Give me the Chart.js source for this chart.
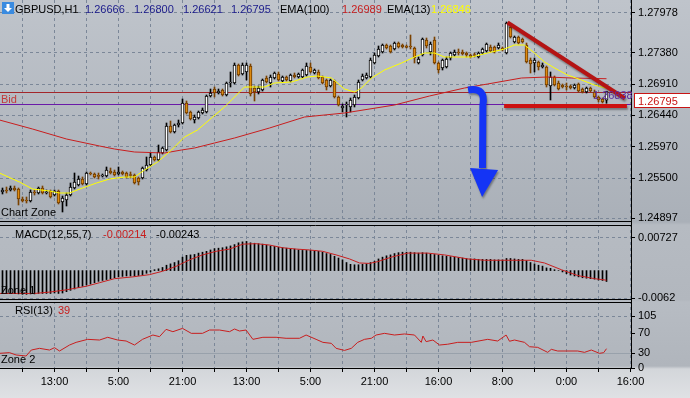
<!DOCTYPE html>
<html>
<head>
<meta charset="utf-8">
<title>GBPUSD,H1</title>
<script src="https://cdn.jsdelivr.net/npm/chart.js@4.4.1/dist/chart.umd.min.js"></script>
<style>
  html, body { margin: 0; padding: 0; background: #d9dcdf; }
  #wrap {
    position: relative; width: 690px; height: 398px; overflow: hidden;
    background: linear-gradient(to bottom, #bfc4cb 0px, #aab0b8 222px, #b6bbc2 225px, #b2b7be 300px,
      #b7bcc3 302px, #b0b5bc 366px, #d3d6da 369px, #dfe1e4 398px);
  }
  #wrap canvas { position: absolute; left: 0; }
</style>
</head>
<body>
<div id="wrap">
  <canvas id="main" width="690" height="224" style="top:0"></canvas>
  <canvas id="macd" width="690" height="77" style="top:224px"></canvas>
  <canvas id="rsi" width="690" height="97" style="top:301px"></canvas>
</div>
<script>
// hourly candles, [open, high, low, close]
const candles = [
  [1.2529,1.2535,1.2526,1.2532],[1.2532,1.25365,1.25275,1.25305],[1.2532,1.2538,1.25305,1.2535],[1.2535,1.2538,1.25305,1.2532],[1.25335,1.2535,1.25095,1.25185],
  [1.25185,1.25215,1.2514,1.25155],[1.2517,1.25215,1.25125,1.25155],[1.25155,1.2532,1.2514,1.2529],[1.2529,1.2532,1.25245,1.25275],[1.25275,1.25365,1.2526,1.2535],
  [1.2535,1.2538,1.2526,1.25275],[1.25275,1.2532,1.2526,1.2529],[1.25305,1.2532,1.252,1.25215],[1.25245,1.2532,1.2523,1.25305],[1.25305,1.2532,1.2511,1.25125],
  [1.2514,1.2523,1.2499,1.252],[1.2517,1.25275,1.2508,1.25245],[1.25245,1.25425,1.2523,1.25365],[1.2535,1.25575,1.25335,1.2544],[1.25395,1.2553,1.2538,1.25485],
  [1.25485,1.25515,1.25395,1.2541],[1.2541,1.2559,1.25395,1.25575],[1.25575,1.2559,1.25545,1.2556],[1.2556,1.25575,1.255,1.25515],[1.2553,1.25575,1.25485,1.25525],
  [1.2553,1.2556,1.25515,1.25545],[1.2553,1.25665,1.25515,1.2562],[1.25605,1.2565,1.2556,1.25575],[1.2559,1.2562,1.2553,1.25545],[1.2556,1.25665,1.25545,1.2559],
  [1.2559,1.25605,1.25545,1.2556],[1.25575,1.2559,1.255,1.25515],[1.25545,1.2559,1.255,1.25537],[1.25545,1.2556,1.2541,1.25425],[1.255,1.25515,1.25395,1.2544],
  [1.255,1.25665,1.25485,1.2565],[1.2562,1.25815,1.25605,1.25695],[1.25695,1.25875,1.2568,1.25815],[1.25815,1.2583,1.25755,1.2577],[1.2577,1.25995,1.25755,1.2589],
  [1.25875,1.25965,1.2586,1.2595],[1.2592,1.26325,1.25905,1.2628],[1.2628,1.26355,1.26175,1.2619],[1.2619,1.2631,1.26175,1.26295],[1.26295,1.2637,1.26265,1.26325],
  [1.26325,1.26685,1.2631,1.26625],[1.26625,1.26655,1.2646,1.26475],[1.2649,1.26505,1.2637,1.26385],[1.2637,1.26445,1.26325,1.26415],[1.264,1.26505,1.26385,1.2649],
  [1.26475,1.2655,1.2646,1.2652],[1.2649,1.26745,1.26475,1.2673],[1.2673,1.26835,1.26715,1.26775],[1.26835,1.26865,1.26715,1.26775],[1.26775,1.26835,1.2676,1.26805],
  [1.2682,1.26835,1.2673,1.26745],[1.26745,1.2694,1.2673,1.26925],[1.26925,1.2709,1.26865,1.2694],[1.26925,1.27225,1.2691,1.27195],[1.27195,1.2721,1.2703,1.27045],
  [1.2706,1.27225,1.27045,1.27195],[1.2709,1.27225,1.2697,1.27195],[1.2718,1.2721,1.2673,1.2676],[1.2685,1.2688,1.26655,1.2679],[1.2679,1.2688,1.2676,1.2685],
  [1.2682,1.26985,1.26805,1.2697],[1.27,1.2703,1.26925,1.2694],[1.26925,1.27045,1.26865,1.27015],[1.27,1.2709,1.26985,1.27075],[1.2706,1.2709,1.26955,1.2697],
  [1.26955,1.2703,1.2694,1.27015],[1.27015,1.2703,1.26955,1.2697],[1.26955,1.2706,1.2694,1.27045],[1.27045,1.27075,1.27,1.27015],[1.27015,1.27075,1.27,1.2706],
  [1.27015,1.27135,1.27,1.2712],[1.27045,1.27225,1.2703,1.2718],[1.27165,1.27225,1.27075,1.2709],[1.27075,1.27135,1.2706,1.2712],[1.2709,1.2712,1.26985,1.27],
  [1.27015,1.2703,1.2691,1.26925],[1.2697,1.26985,1.2682,1.26865],[1.2688,1.26985,1.26865,1.2697],[1.26955,1.2697,1.267,1.26715],[1.26715,1.2673,1.2658,1.26595],
  [1.2655,1.2661,1.2649,1.2658],[1.26595,1.2664,1.26415,1.2661],[1.26565,1.267,1.2649,1.2667],[1.26595,1.26745,1.26565,1.26715],[1.267,1.2697,1.26685,1.2694],
  [1.2697,1.2706,1.26955,1.2703],[1.27,1.27075,1.26985,1.27045],[1.27015,1.273,1.27,1.2727],[1.27225,1.27375,1.2721,1.27345],[1.2733,1.2748,1.27315,1.27435],
  [1.2739,1.2751,1.27375,1.27495],[1.27495,1.2751,1.27435,1.2745],[1.2748,1.27495,1.27375,1.2739],[1.27435,1.2754,1.2742,1.27525],[1.27525,1.2754,1.2745,1.27465],
  [1.27495,1.2751,1.2745,1.27465],[1.2748,1.27495,1.2745,1.27458],[1.2748,1.27645,1.27435,1.27465],[1.2745,1.27465,1.27225,1.273],[1.27225,1.27315,1.2721,1.27285],
  [1.27345,1.276,1.2733,1.27585],[1.2757,1.276,1.2745,1.2748],[1.2739,1.2754,1.27345,1.2751],[1.2757,1.27615,1.2721,1.27225],[1.27225,1.2724,1.27075,1.2712],
  [1.2715,1.27285,1.2712,1.2727],[1.27165,1.27315,1.2715,1.27285],[1.273,1.2739,1.2727,1.27375],[1.27345,1.2742,1.2733,1.2739],[1.2739,1.27435,1.27345,1.27375],
  [1.2739,1.2742,1.27345,1.2736],[1.27375,1.2739,1.27315,1.27345],[1.27345,1.2736,1.273,1.27315],[1.27345,1.27375,1.27315,1.27338],[1.27315,1.2739,1.273,1.27375],
  [1.27375,1.2745,1.2736,1.27435],[1.27405,1.27525,1.2739,1.2751],[1.27465,1.27495,1.2739,1.27405],[1.27465,1.2748,1.27375,1.2739],[1.2745,1.27525,1.27435,1.27495],
  [1.2745,1.27465,1.27405,1.2742],[1.27375,1.2784,1.2736,1.27825],[1.27765,1.27795,1.276,1.27615],[1.2754,1.2763,1.27525,1.27615],[1.27615,1.2763,1.2751,1.27525],
  [1.27585,1.276,1.27525,1.2754],[1.27495,1.27525,1.27225,1.2724],[1.2727,1.273,1.27075,1.2721],[1.27225,1.273,1.2709,1.2727],[1.2724,1.27255,1.2712,1.27165],
  [1.27165,1.27225,1.2715,1.27195],[1.27165,1.2718,1.26865,1.26895],[1.2688,1.2709,1.2667,1.27015],[1.27015,1.2703,1.2688,1.26895],[1.26925,1.26955,1.2682,1.26835],
  [1.26895,1.2691,1.2685,1.26865],[1.2688,1.26925,1.2682,1.26865],[1.2688,1.26895,1.26835,1.2685],[1.2685,1.2691,1.26835,1.26895],[1.2691,1.26925,1.2679,1.26805],
  [1.26835,1.2685,1.26775,1.2679],[1.2679,1.26865,1.26775,1.2685],[1.2685,1.26865,1.2679,1.26805],[1.2679,1.2682,1.267,1.26715],[1.26715,1.2673,1.2664,1.2667],
  [1.26685,1.267,1.26625,1.2664],[1.26666,1.268,1.26621,1.26795]
];

// [bar index, value]
const ema13 = [
  [-0.75,1.25575],[4.25,1.2544],[7.5,1.25335],[11.75,1.25305],[14.25,1.25275],[16.75,1.25275],[20,1.2535],[23.5,1.25425],
  [26.75,1.25485],[30.5,1.25515],[33,1.25515],[35.5,1.2562],[38.75,1.2574],[42.25,1.2592],[45.5,1.26115],[48.75,1.2622],
  [52.25,1.264],[55.5,1.26565],[58,1.26715],[60.5,1.26865],[65.5,1.26865],[68,1.26925],[72.25,1.2694],[76.25,1.27015],
  [78.75,1.2703],[82.25,1.27],[85.5,1.26835],[88,1.2679],[89.75,1.2685],[92.25,1.27],[95.5,1.2712],[99.75,1.27225],
  [103,1.27315],[105.5,1.27375],[108,1.27375],[110.5,1.27315],[117.25,1.27315],[121.25,1.27375],[125.5,1.27435],[128,1.27495],
  [130.5,1.27495],[133,1.27375],[135.5,1.2724],[138,1.2715],[141.25,1.27045],[144.75,1.2697],[148,1.26895],[151,1.26846]
];
const ema100 = [
  [-0.75,1.2637],[7.5,1.26235],[16,1.26085],[24.25,1.2598],[28,1.25935],[33,1.2589],[40.5,1.25875],[44.75,1.2592],
  [48,1.2595],[53,1.26025],[58,1.261],[66.75,1.2625],[75.5,1.26415],[85.5,1.26475],[98,1.26595],[106.75,1.2673],
  [115.5,1.2685],[121.25,1.2691],[129.75,1.27],[136.25,1.27015],[142.25,1.27],[151,1.26989]
];

const macdHist = [
  -0.0051,-0.0051,-0.0051,-0.0051,-0.0052,-0.0053,-0.0053,-0.0052,-0.0052,-0.0051,
  -0.0051,-0.0051,-0.0051,-0.0050,-0.0051,-0.0050,-0.0047,-0.0044,-0.0041,-0.0038,
  -0.0035,-0.0032,-0.0030,-0.0027,-0.0024,-0.0022,-0.0020,-0.0018,-0.0016,-0.0014,
  -0.0013,-0.0012,-0.0012,-0.0012,-0.0011,-0.0009,-0.0006,-0.0003,0.0002,0.0004,
  0.0007,0.0012,0.0015,0.0018,0.0022,0.0030,0.0034,0.0035,0.0036,0.0039,
  0.0041,0.0043,0.0046,0.0049,0.0050,0.0051,0.0053,0.0055,0.0058,0.0062,
  0.0064,0.0065,0.0062,0.0061,0.0060,0.0059,0.0057,0.0055,0.0054,0.0052,
  0.0051,0.0050,0.0049,0.0048,0.0046,0.0045,0.0045,0.0045,0.0044,0.0043,
  0.0041,0.0038,0.0036,0.0032,0.0028,0.0024,0.0018,0.0014,0.0013,0.0013,
  0.0014,0.0015,0.0018,0.0021,0.0026,0.0030,0.0033,0.0035,0.0038,0.0040,
  0.0041,0.0041,0.0041,0.0040,0.0039,0.0040,0.0039,0.0037,0.0036,0.0034,
  0.0033,0.0032,0.0031,0.0030,0.0029,0.0028,0.0027,0.0026,0.0026,0.0025,
  0.0025,0.0025,0.0025,0.0024,0.0024,0.0024,0.0027,0.0027,0.0026,0.0025,
  0.0025,0.0022,0.0018,0.0015,0.0012,0.0010,0.0006,0.0005,0.0002,0.0000,
  -0.0003,-0.0007,-0.0010,-0.0012,-0.0014,-0.0016,-0.0017,-0.0018,-0.0019,-0.0021,
  -0.0022,-0.00243
];
const macdSignal = [
  [-0.75,-0.0051],[8,-0.0051],[11.75,-0.0048],[15.9,-0.0043],[20.9,-0.0035],[24.25,-0.0027],[28,-0.0018],[32.6,-0.0014],
  [36.75,-0.0009],[40,-0.00015],[43.4,0.00095],[46.75,0.0024],[50,0.0035],[53.4,0.0043],[56.75,0.0048],[60.1,0.0059],
  [63.4,0.0060],[66.75,0.0057],[70,0.0051],[73.4,0.0048],[76.75,0.0046],[80,0.0043],[83.4,0.0035],[86.75,0.0026],
  [89.25,0.0017],[91.75,0.0016],[93.8,0.0020],[97.2,0.0030],[101.3,0.0039],[106.3,0.0039],[110.5,0.0035],[116.3,0.0026],
  [120.5,0.0023],[132.2,0.0023],[135.5,0.0017],[139.7,0.0002],[143.8,-0.0011],[148,-0.0018],[151,-0.00214]
];

const rsi13 = [
  [-0.75,29.6],[1.75,31],[3.4,26.3],[5.9,24.2],[7.2,36.3],[9.25,39.7],[11.75,36.3],[13,41],[14.25,34.3],[16.75,46.4],
  [18.4,51.8],[21.3,57.9],[24.25,56.5],[26.3,62],[28.8,56.5],[30.9,54.5],[33,46.4],[35,57.9],[37.6,66.6],[39.25,63.3],
  [40.9,78],[42.6,73.3],[45,80],[47.2,70],[50,70],[51.75,76.7],[54.25,76.7],[56.75,73.3],[58,78.7],[59.25,74.7],
  [60.9,76.7],[62.6,57.9],[65.1,62],[68.4,62],[70.9,60],[74.25,60],[75.9,66.6],[78.4,57.9],[80.1,51.8],[82.2,49.8],
  [83.4,39.7],[85.5,35.5],[87.2,39.7],[88.8,51.8],[90.5,57.9],[92.2,60],[93.4,66.6],[95.5,70],[98,66.6],[100.5,68.7],
  [103,66.6],[104.7,51.8],[105.1,64.6],[105.9,53.2],[107.6,56.5],[109.25,46.4],[111.3,48],[113.8,51.8],[117.2,51.8],[121.3,57.9],
  [123.8,54.5],[125.9,66.6],[126.75,54],[128,56.5],[130.5,51.8],[131.75,43],[133.8,41.7],[136.3,31.6],[137.2,37.7],[138.8,34.3],
  [143.8,34.3],[145.5,31.6],[147.2,36.3],[149.25,29.6],[150.3,31],[151,39]
];

const timeGrid = [5,13,21,29,37,45,53,61,69,77,85,93,101,109,117,125,133,141,149,157];
const timeTicks = [13,29,45,61,77,93,109,125,141,157];
const timeLabels = ['13:00','5:00','21:00','13:00','5:00','21:00','16:00','8:00','0:00','16:00'];
const priceTicks = [1.24897,1.25500,1.25970,1.26440,1.26910,1.27380,1.27978];
const macdTicks = [-0.0062, 0.00727];
const macdTickLabels = ['-0.0062', '0.00727'];
const rsiTicks = [0, 30, 70, 105];

// drawings on the price pane, in [bar index, price]
const bidPrice = 1.26795;
const bidLine = 1.2661;
const trendLine = [[126.25, 1.27833], [155.6, 1.26693]];
const supportLine = [[125.4, 1.2658], [156.1, 1.2658]];
const arrowPath = [[116.4, 1.2682], [120.9, 1.26865], [120.1, 1.26595], [120.0, 1.2565]];
const arrowHead = [[116.9, 1.2565], [123.9, 1.2562], [119.9, 1.25215]];
const levelText = [147.6, 1.26745, '1.26838'];

const FONT = "'Liberation Sans', Arial, sans-serif";
const GRID = '#7b8798';
const X_MIN = -0.625, X_MAX = 157.125;

function hLine(ctx, x1, x2, y, color, w) {
  ctx.save();
  ctx.strokeStyle = color;
  ctx.lineWidth = w;
  ctx.beginPath();
  ctx.moveTo(x1, y);
  ctx.lineTo(x2, y);
  ctx.stroke();
  ctx.restore();
}

function label(ctx, str, x, y, color, align) {
  ctx.save();
  ctx.font = '11px ' + FONT;
  ctx.fillStyle = color;
  ctx.textAlign = align || 'left';
  ctx.textBaseline = 'alphabetic';
  ctx.fillText(str, x, y);
  ctx.restore();
}

// black double rule between panes; clears the strip between them
function paneEdge(ctx, right, top, bottom) {
  if (top) {
    ctx.clearRect(0, 0, right, 1);
    hLine(ctx, 0, right, 1.5, '#000', 1);
  }
  if (bottom != null) {
    ctx.clearRect(0, bottom + 1, right, 4);
    hLine(ctx, 0, right, bottom + 0.5, '#000', 1);
  }
}

function timeAxis(showLabels) {
  return {
    type: 'linear', min: X_MIN, max: X_MAX, offset: false,
    grid: { offset: false, color: GRID, drawTicks: showLabels, tickLength: 4, tickColor: '#000' },
    border: { display: showLabels, color: '#000', dash: [3, 3] },
    ticks: {
      display: showLabels, autoSkip: false, maxRotation: 0, padding: 3, color: '#000',
      font: { family: FONT, size: 11 },
      callback: v => { const k = timeTicks.indexOf(v); return k < 0 ? '' : timeLabels[k]; }
    },
    afterBuildTicks: s => { s.ticks = timeGrid.map(v => ({ value: v })); },
    afterFit: s => { s.height = showLabels ? 30 : 0; s.paddingLeft = 0; s.paddingRight = 0; }
  };
}

function valueAxis(min, max, ticks, fmt, gridColor, dash) {
  return {
    position: 'right', min, max, beginAtZero: false,
    grid: { color: gridColor || GRID, tickLength: 4, tickColor: '#000' },
    border: { display: true, color: '#000', dash: dash || [3, 3] },
    ticks: { autoSkip: false, padding: 3, color: '#000', font: { family: FONT, size: 11 }, callback: fmt },
    afterBuildTicks: s => { s.ticks = ticks.map(v => ({ value: v })); },
    afterFit: s => { s.width = 59; s.paddingTop = 0; s.paddingBottom = 0; }
  };
}

function options(yAxis, showTime) {
  return {
    responsive: false, animation: false, events: [],
    layout: { padding: 0, autoPadding: false },
    plugins: { legend: { display: false }, tooltip: { enabled: false } },
    scales: { x: timeAxis(showTime), y: yAxis }
  };
}

const pts = arr => arr.map(p => ({ x: p[0], y: p[1] }));
const isUp = candles.map(c => c[3] >= c[0]);

const mainDecor = {
  id: 'mainDecor',
  beforeDatasetsDraw(chart) {
    const { ctx, chartArea: a, scales: { y } } = chart;
    hLine(ctx, a.left, a.right, Math.round(y.getPixelForValue(bidPrice)) + 0.5, '#a3262a', 1);
    hLine(ctx, a.left, a.right, Math.round(y.getPixelForValue(bidLine)) + 0.5, '#6a1aa8', 1);
  },
  afterDatasetsDraw(chart) {
    const { ctx, scales: { x, y } } = chart;
    const P = p => [x.getPixelForValue(p[0]), y.getPixelForValue(p[1])];
    ctx.save();
    ctx.shadowColor = 'rgba(0,0,0,0.35)';
    ctx.shadowBlur = 2;
    ctx.shadowOffsetX = 1;
    ctx.shadowOffsetY = 2;
    ctx.lineWidth = 4;
    ctx.strokeStyle = '#b41414';
    ctx.beginPath();
    ctx.moveTo(...P(trendLine[0]));
    ctx.lineTo(...P(trendLine[1]));
    ctx.stroke();
    ctx.strokeStyle = '#cc1111';
    ctx.beginPath();
    ctx.moveTo(...P(supportLine[0]));
    ctx.lineTo(...P(supportLine[1]));
    ctx.stroke();

    const [s, c, t, e] = arrowPath.map(P);
    ctx.lineWidth = 7;
    ctx.strokeStyle = '#1434f5';
    ctx.beginPath();
    ctx.moveTo(s[0], s[1]);
    ctx.quadraticCurveTo(c[0], c[1], t[0], t[1]);
    ctx.lineTo(e[0], e[1]);
    ctx.stroke();
    const h = arrowHead.map(P);
    ctx.fillStyle = '#1434f5';
    ctx.beginPath();
    ctx.moveTo(...h[0]);
    ctx.lineTo(...h[1]);
    ctx.lineTo(...h[2]);
    ctx.closePath();
    ctx.fill();
    ctx.restore();
  },
  afterDraw(chart) {
    const { ctx, chartArea: a, scales: { x, y } } = chart;
    paneEdge(ctx, a.right, false, a.bottom - 3);

    // symbol icon
    ctx.fillStyle = '#3a8be0';
    ctx.fillRect(2, 2, 12, 12);
    ctx.fillStyle = '#fff';
    ctx.beginPath();
    ctx.moveTo(6.5, 4); ctx.lineTo(9.5, 4); ctx.lineTo(9.5, 8); ctx.lineTo(12, 8);
    ctx.lineTo(8, 12); ctx.lineTo(4, 8); ctx.lineTo(6.5, 8);
    ctx.closePath();
    ctx.fill();

    const last = candles[candles.length - 1];
    const blue = '#1c1c8c';
    label(ctx, 'GBPUSD,H1', 15, 13, '#000');
    label(ctx, last[0].toFixed(5), 85, 13, blue);
    label(ctx, last[1].toFixed(5), 134, 13, blue);
    label(ctx, last[2].toFixed(5), 183, 13, blue);
    label(ctx, last[3].toFixed(5), 231, 13, blue);
    label(ctx, 'EMA(100)', 280, 13, '#000');
    label(ctx, ema100[ema100.length - 1][1].toFixed(5), 342, 13, '#c81e1e');
    label(ctx, 'EMA(13)', 387, 13, '#000');
    label(ctx, ema13[ema13.length - 1][1].toFixed(5), 431, 13, '#ffff00');

    label(ctx, 'Chart Zone', 1, a.bottom - 8, '#000');
    const yPurple = Math.round(y.getPixelForValue(bidLine));
    label(ctx, 'Bid', 1, yPurple - 1, '#c23b3b');
    label(ctx, levelText[2], x.getPixelForValue(levelText[0]), y.getPixelForValue(levelText[1]) + 4, '#5c2ca0');

    // last price box on the scale
    const yb = Math.round(y.getPixelForValue(bidPrice));
    ctx.save();
    ctx.fillStyle = '#fff';
    ctx.fillRect(a.right + 3, yb + 1, 60, 15);
    ctx.strokeStyle = '#c81414';
    ctx.lineWidth = 1;
    ctx.strokeRect(a.right + 3.5, yb + 1.5, 60, 14);
    ctx.restore();
    label(ctx, bidPrice.toFixed(5), a.right + 7, yb + 13, '#c81414');
  }
};

new Chart(document.getElementById('main'), {
  type: 'bar',
  data: {
    datasets: [
      { type: 'line', label: 'EMA(13)', data: pts(ema13), borderColor: '#ffff00', borderWidth: 1, pointRadius: 0, order: 0 },
      { type: 'line', label: 'EMA(100)', data: pts(ema100), borderColor: '#c81e1e', borderWidth: 1, pointRadius: 0, order: 0 },
      {
        label: 'body', data: candles.map((c, i) => ({ x: i, y: [c[0], c[3]] })),
        backgroundColor: isUp.map(u => u ? '#ffffff' : '#dd8a10'),
        borderColor: isUp.map(u => u ? '#000000' : '#6b3a00'),
        borderWidth: 1, borderSkipped: false, barThickness: 3, minBarLength: 1, grouped: false, order: 1
      },
      {
        label: 'wick', data: candles.map((c, i) => ({ x: i, y: [c[2], c[1]] })),
        backgroundColor: isUp.map(u => u ? '#000000' : '#7a4200'),
        barThickness: 1, grouped: false, order: 2
      }
    ]
  },
  options: options(valueAxis(1.2481, 1.2817, priceTicks, v => v.toFixed(5)), false),
  plugins: [mainDecor]
});

new Chart(document.getElementById('macd'), {
  type: 'bar',
  data: {
    datasets: [
      { type: 'line', label: 'signal', data: pts(macdSignal), borderColor: '#c81e1e', borderWidth: 1, pointRadius: 0, order: 0 },
      { label: 'MACD', data: macdHist.map((v, i) => ({ x: i, y: v })), backgroundColor: '#000', barThickness: 1, grouped: false, order: 1 }
    ]
  },
  options: options(valueAxis(-0.00678, 0.01039, macdTicks, v => macdTickLabels[macdTicks.indexOf(v)]), false),
  plugins: [{
    id: 'macdDecor',
    afterDraw(chart) {
      const { ctx, chartArea: a } = chart;
      paneEdge(ctx, a.right, true, a.bottom - 2);
      label(ctx, 'MACD(12,55,7)', 15, 14, '#000');
      label(ctx, macdSignal[macdSignal.length - 1][1].toFixed(5), 103, 14, '#c81e1e');
      label(ctx, macdHist[macdHist.length - 1].toFixed(5), 156, 14, '#000');
      label(ctx, 'Zone 1', 1, 70, '#000');
    }
  }]
});

new Chart(document.getElementById('rsi'), {
  type: 'bar',
  data: {
    datasets: [
      { type: 'line', label: 'RSI(13)', data: pts(rsi13), borderColor: '#c81e1e', borderWidth: 1, pointRadius: 0 }
    ]
  },
  options: options(valueAxis(0, 135.3, rsiTicks, v => String(v),
    c => c.tick && c.tick.value === 105 ? GRID : (c.tick && c.tick.value === 30 ? 'rgba(150,158,168,0.9)' : 'rgba(0,0,0,0)'),
    c => c.tick && c.tick.value === 30 ? [] : [3, 3]), true),
  plugins: [{
    id: 'rsiDecor',
    afterDraw(chart) {
      const { ctx, chartArea: a } = chart;
      paneEdge(ctx, a.right, true, null);
      label(ctx, 'RSI(13)', 15, 13, '#000');
      label(ctx, String(Math.round(rsi13[rsi13.length - 1][1])), 58, 13, '#c81e1e');
      label(ctx, 'Zone 2', 1, 62, '#000');
    }
  }]
});
</script>
</body>
</html>
